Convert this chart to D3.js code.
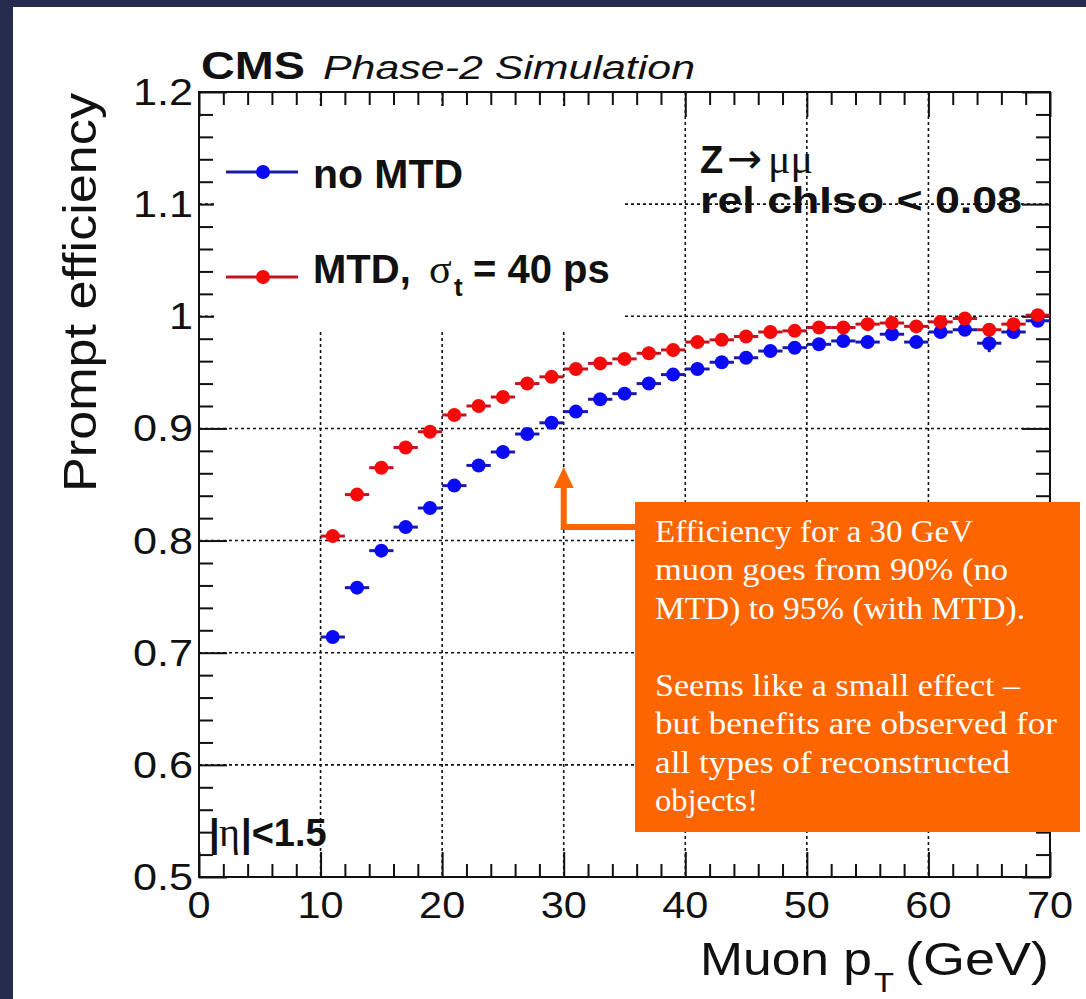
<!DOCTYPE html>
<html>
<head>
<meta charset="utf-8">
<script src="https://cdn.jsdelivr.net/npm/d3@7"></script>
<style>
  html, body { margin: 0; padding: 0; background: #242b4c; }
  svg { display: block; }
  .sans { font-family: "Liberation Sans", Arial, Helvetica, sans-serif; }
  .serif { font-family: "Liberation Serif", "Times New Roman", serif; }
</style>
</head>
<body>
<svg id="chart" width="1086" height="999"></svg>
<script>
// bin centres (GeV), 2 GeV bins from 10 to 70
const ptBins = [11, 13, 15, 17, 19, 21, 23, 25, 27, 29, 31, 33, 35, 37, 39,
                41, 43, 45, 47, 49, 51, 53, 55, 57, 59, 61, 63, 65, 67, 69];

// no MTD
const effNoMTD = [0.714, 0.758, 0.791, 0.812, 0.829, 0.849, 0.867, 0.879, 0.895, 0.905,
                  0.915, 0.926, 0.931, 0.940, 0.948, 0.953, 0.959, 0.963, 0.969, 0.972,
                  0.975, 0.978, 0.977, 0.984, 0.977, 0.986, 0.988, 0.976, 0.986, 0.996];
const errNoMTD = [0.002, 0.002, 0.002, 0.002, 0.002, 0.002, 0.002, 0.002, 0.002, 0.002,
                  0.002, 0.002, 0.002, 0.002, 0.002, 0.003, 0.003, 0.003, 0.003, 0.003,
                  0.003, 0.003, 0.004, 0.004, 0.004, 0.004, 0.004, 0.008, 0.005, 0.004];

// MTD, sigma_t = 40 ps
const effMTD = [0.804, 0.841, 0.865, 0.883, 0.897, 0.912, 0.920, 0.928, 0.940, 0.946,
                0.953, 0.958, 0.962, 0.967, 0.970, 0.977, 0.979, 0.982, 0.986, 0.987,
                0.990, 0.990, 0.993, 0.994, 0.991, 0.995, 0.998, 0.988, 0.993, 1.001];
const errMTD = [0.002, 0.002, 0.002, 0.002, 0.002, 0.002, 0.002, 0.002, 0.002, 0.002,
                0.002, 0.002, 0.002, 0.002, 0.002, 0.002, 0.002, 0.002, 0.002, 0.002,
                0.003, 0.003, 0.003, 0.003, 0.003, 0.003, 0.003, 0.004, 0.003, 0.003];

const xMajor = [0, 10, 20, 30, 40, 50, 60, 70];
const yMajor = [0.5, 0.6, 0.7, 0.8, 0.9, 1.0, 1.1, 1.2];
const yLabels = ["0.5", "0.6", "0.7", "0.8", "0.9", "1", "1.1", "1.2"];

const noteLines = ["Efficiency for a 30 GeV", "muon goes from 90% (no", "MTD) to 95% (with MTD).", "",
                   "Seems like a small effect \u2013", "but benefits are observed for",
                   "all types of reconstructed", "objects!"];
const noteWidths = [318, 353, 370, 0, 365, 402, 355, 103];

const svg = d3.select("#chart");

// slide background with white picture area
svg.append("rect").attr("x", 13).attr("y", 7).attr("width", 1073).attr("height", 992).attr("fill", "#ffffff");

const frame = { left: 199, right: 1050, top: 92, bottom: 877 };
const x = d3.scaleLinear().domain([0, 70]).range([frame.left, frame.right]);
const y = d3.scaleLinear().domain([0.5, 1.2]).range([frame.bottom, frame.top]);

const xMinor = d3.range(0, 71, 2).filter(v => v % 10 !== 0);
const yMinor = d3.range(50, 121, 2).map(v => v / 100).filter(v => Math.round(v * 100) % 10 !== 0);

function fit(sel, w) {
    sel.attr("textLength", w).attr("lengthAdjust", "spacingAndGlyphs");
}
function stretch(sel, k) {
    sel.each(function() {
        const w = this.getComputedTextLength();
        this.setAttribute("textLength", w * k);
        this.setAttribute("lengthAdjust", "spacingAndGlyphs");
    });
}

// ticks on all four sides
const tickG = svg.append("g").attr("class", "ticks");
const addTicks = (axis, tr) => {
    const g = tickG.append("g").attr("transform", tr).call(axis);
    g.select(".domain").remove();
    g.selectAll("line").attr("stroke", "#111").attr("stroke-width", 2);
};
addTicks(d3.axisBottom(x).tickValues(xMinor).tickSize(-13).tickFormat(""), `translate(0,${frame.bottom})`);
addTicks(d3.axisBottom(x).tickValues(xMajor).tickSize(-25).tickFormat(""), `translate(0,${frame.bottom})`);
addTicks(d3.axisTop(x).tickValues(xMinor).tickSize(-13).tickFormat(""), `translate(0,${frame.top})`);
addTicks(d3.axisTop(x).tickValues(xMajor).tickSize(-25).tickFormat(""), `translate(0,${frame.top})`);
addTicks(d3.axisLeft(y).tickValues(yMinor).tickSize(-14).tickFormat(""), `translate(${frame.left},0)`);
addTicks(d3.axisLeft(y).tickValues(yMajor).tickSize(-28).tickFormat(""), `translate(${frame.left},0)`);
addTicks(d3.axisRight(y).tickValues(yMinor).tickSize(-14).tickFormat(""), `translate(${frame.right},0)`);
addTicks(d3.axisRight(y).tickValues(yMajor).tickSize(-28).tickFormat(""), `translate(${frame.right},0)`);

// dotted grid
const grid = svg.append("g").attr("stroke", "#111").attr("stroke-width", 1.6).attr("stroke-dasharray", "3,3");
grid.selectAll("line.gx").data(xMajor.slice(1, -1)).join("line")
    .attr("x1", d => x(d)).attr("x2", d => x(d))
    .attr("y1", frame.top).attr("y2", frame.bottom);
grid.selectAll("line.gy").data(yMajor.slice(1, -1)).join("line")
    .attr("x1", frame.left).attr("x2", frame.right)
    .attr("y1", d => y(d)).attr("y2", d => y(d));

// legend pad hides the grid in the upper left
svg.append("rect").attr("x", 214).attr("y", 106).attr("width", 408).attr("height", 224).attr("fill", "#fff");

// frame
svg.append("rect")
    .attr("x", frame.left).attr("y", frame.top)
    .attr("width", frame.right - frame.left).attr("height", frame.bottom - frame.top)
    .attr("fill", "none").attr("stroke", "#111").attr("stroke-width", 2);

// axis labels
const xl = svg.append("g").attr("class", "sans").attr("font-size", 37).attr("fill", "#111");
xl.selectAll("text").data(xMajor).join("text")
    .attr("x", d => x(d)).attr("y", 918).attr("text-anchor", "middle").text(d => d)
    .call(stretch, 1.12);
const yl = svg.append("g").attr("class", "sans").attr("font-size", 36).attr("fill", "#111");
yl.selectAll("text").data(yMajor).join("text")
    .attr("x", 193).attr("y", d => y(d) + 13).attr("text-anchor", "end").text((d, i) => yLabels[i])
    .call(stretch, 1.2);

svg.append("text").attr("class", "sans").attr("font-size", 46).attr("fill", "#111")
    .attr("transform", "translate(96,93) rotate(-90)").attr("text-anchor", "end")
    .text("Prompt efficiency").call(fit, 399);

const xt = svg.append("g").attr("class", "sans").attr("fill", "#111");
xt.append("text").attr("x", 700).attr("y", 975).attr("font-size", 46).text("Muon p").call(fit, 172);
xt.append("text").attr("x", 874).attr("y", 992).attr("font-size", 28).text("T").call(fit, 20);
xt.append("text").attr("x", 905).attr("y", 975).attr("font-size", 46).text("(GeV)").call(fit, 144);

// data series
const series = [
    { name: "noMTD", eff: effNoMTD, err: errNoMTD, marker: "#0a0af5", bar: "#1a1aa8" },
    { name: "MTD", eff: effMTD, err: errMTD, marker: "#f50a0a", bar: "#c21420" }
];
series.forEach(s => {
    const g = svg.append("g").attr("class", "series-" + s.name);
    const pts = ptBins.map((pt, i) => ({ pt, v: s.eff[i], e: s.err[i] }));
    g.selectAll("line.h").data(pts).join("line").attr("class", "h")
        .attr("x1", d => x(d.pt - 1)).attr("x2", d => x(d.pt + 1))
        .attr("y1", d => y(d.v)).attr("y2", d => y(d.v))
        .attr("stroke", s.bar).attr("stroke-width", 3);
    g.selectAll("line.v").data(pts).join("line").attr("class", "v")
        .attr("x1", d => x(d.pt)).attr("x2", d => x(d.pt))
        .attr("y1", d => y(d.v - d.e)).attr("y2", d => y(d.v + d.e))
        .attr("stroke", s.bar).attr("stroke-width", 3);
    g.selectAll("circle").data(pts).join("circle")
        .attr("cx", d => x(d.pt)).attr("cy", d => y(d.v)).attr("r", 7)
        .attr("fill", s.marker);
});

// legend
const leg = [{ s: series[0], y: 172 }, { s: series[1], y: 277 }];
leg.forEach(l => {
    svg.append("line").attr("x1", 226).attr("x2", 298).attr("y1", l.y).attr("y2", l.y)
        .attr("stroke", l.s.bar).attr("stroke-width", 3);
    svg.append("circle").attr("cx", 263).attr("cy", l.y).attr("r", 7).attr("fill", l.s.marker);
});
const lt = svg.append("g").attr("fill", "#111");
lt.append("text").attr("class", "sans").attr("font-weight", "bold").attr("font-size", 40)
    .attr("x", 313).attr("y", 188).text("no MTD").call(fit, 150);
const mtdLabel = lt.append("text").attr("class", "sans").attr("font-weight", "bold").attr("font-size", 40)
    .attr("y", 283);
mtdLabel.append("tspan").attr("x", 313).text("MTD,");
mtdLabel.append("tspan").attr("x", 429).attr("class", "serif").attr("font-weight", "normal")
    .attr("font-size", 42).text("\u03c3");
mtdLabel.append("tspan").attr("x", 454).attr("dy", 13).attr("font-size", 26).text("t");
mtdLabel.append("tspan").attr("x", 473).attr("dy", -13).text("= 40 ps");

// title
svg.append("text").attr("class", "sans").attr("font-weight", "bold").attr("font-size", 38)
    .attr("x", 201).attr("y", 79).attr("fill", "#111").text("CMS").call(fit, 104);
svg.append("text").attr("class", "sans").attr("font-style", "italic").attr("font-size", 34)
    .attr("x", 323).attr("y", 79).attr("fill", "#111").text("Phase-2 Simulation").call(fit, 372);

// selection text
const sel = svg.append("g").attr("fill", "#111");
const zmm = sel.append("text").attr("class", "sans").attr("font-weight", "bold").attr("font-size", 38)
    .attr("y", 173);
zmm.append("tspan").attr("x", 700).text("Z");
zmm.append("tspan").attr("x", 727).attr("font-family", "DejaVu Sans").attr("font-weight", "normal")
    .attr("font-size", 42).text("\u2192");
zmm.append("tspan").attr("x", 768).attr("class", "serif").attr("font-weight", "normal")
    .attr("font-size", 42).text("\u03bc\u03bc");
sel.append("text").attr("class", "sans").attr("font-weight", "bold").attr("font-size", 37)
    .attr("x", 700).attr("y", 213).text("rel chIso < 0.08").call(fit, 322);

const eta = sel.append("text").attr("class", "sans").attr("font-weight", "bold").attr("font-size", 38)
    .attr("y", 846);
eta.append("tspan").attr("x", 209).text("|");
eta.append("tspan").attr("x", 219).attr("class", "serif").attr("font-weight", "normal")
    .attr("font-size", 40).text("\u03b7");
eta.append("tspan").attr("x", 241).text("|<1.5");

// annotation box with arrow
const orange = "#fd6500";
const arrow = d3.path();
arrow.moveTo(640, 527);
arrow.lineTo(x(30), 527);
arrow.lineTo(x(30), 486);
svg.append("path").attr("d", arrow.toString()).attr("fill", "none")
    .attr("stroke", orange).attr("stroke-width", 6);
svg.append("path")
    .attr("d", `M${x(30) - 10},488 L${x(30)},467 L${x(30) + 10},488 Z`)
    .attr("fill", orange);

svg.append("rect").attr("x", 635).attr("y", 502).attr("width", 445).attr("height", 330).attr("fill", orange);
const note = svg.append("g").attr("class", "serif").attr("font-size", 32).attr("fill", "#fff");
note.selectAll("text").data(noteLines).join("text")
    .attr("x", 655).attr("y", (d, i) => 541.5 + i * 38.5)
    .text(d => d)
    .each(function(d, i) { if (noteWidths[i]) d3.select(this).call(fit, noteWidths[i]); });
</script>
</body>
</html>
